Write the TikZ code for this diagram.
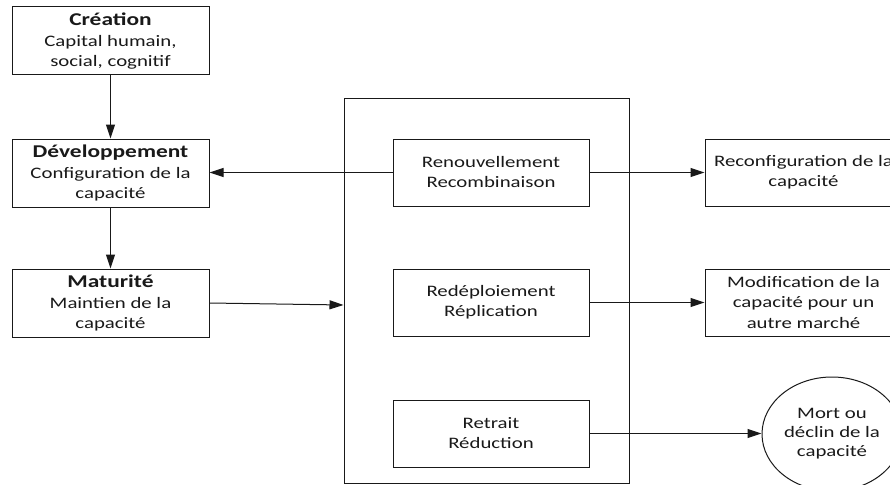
\documentclass[tikz,border=0pt]{standalone}
\usepackage{fontspec}
\setmainfont{Carlito}[FakeStretch=1.3]
\usetikzlibrary{arrows.meta,shapes.geometric,calc}

\tikzset{
  box/.style={draw=black!90, line width=1pt, rectangle, minimum width=197pt,
    minimum height=68pt, align=center, inner sep=0pt, text=black!90,
    font=\fontsize{16}{20}\selectfont},
  inbox/.style={box, minimum width=196pt, minimum height=67pt},
  frame/.style={draw=black!90, line width=1pt, rectangle, inner sep=0pt},
  endnode/.style={draw=black!90, line width=1pt, ellipse, minimum width=140pt,
    minimum height=114pt, align=center, inner sep=0pt, text=black!90,
    font=\fontsize{16}{19}\selectfont},
  link/.style={draw=black!90, line width=1pt, -{Triangle[length=14pt,width=9pt]}},
}
\newcommand{\ttl}[1]{{\fontsize{18}{21}\selectfont\bfseries #1}}

\begin{document}
\begin{tikzpicture}[x=1pt,y=-1pt]
  \useasboundingbox (0,0) rectangle (890,484);
  \clip (0,0) rectangle (890,484);

  % life-cycle stages
  \node[box] (cre) at (110.5,41) {\ttl{Création}\\[1pt] Capital humain,\\ social, cognitif};
  \node[box] (dev) at (110.5,173) {\ttl{Développement}\\[1pt] Configuration de la\\ capacité};
  \node[box] (mat) at (110.5,303) {\ttl{Maturité}\\[1pt] Maintien de la\\ capacité};

  % branching frame and its three options
  \node[frame, minimum width=285pt, minimum height=384pt] (big) at (486.5,291) {};
  \node[inbox] (ren) at (491,172.5) {Renouvellement\\ Recombinaison};
  \node[inbox] (red) at (491,302.5) {Redéploiement\\ Réplication};
  \node[inbox] (ret) at (491,433.5) {Retrait\\ Réduction};

  % outcomes
  \node[inbox, minimum width=197pt] (rec) at (803.5,172.5) {Reconfiguration de la\\ capacité};
  \node[inbox, minimum width=197pt] (mod) at (803.5,302.5) {Modification de la\\ capacité pour un\\ autre marché};
  \node[endnode] (mort) at (832,434) {Mort ou\\ déclin de la\\ capacité};

  % connectors
  \draw[link] (cre.south) -- (dev.north);
  \draw[link] (dev.south) -- (mat.north);
  \draw[link] (mat.east) -- ($(mat.east -| big.west)+(0,2)$);
  \draw[link] (ren.west) -- (ren.west -| dev.east);
  \draw[link] (ren.east) -- (rec.west);
  \draw[link] (red.east) -- (mod.west);
  \draw[link] (ret.east) -- (ret.east -| mort.west);
\end{tikzpicture}
\end{document}
